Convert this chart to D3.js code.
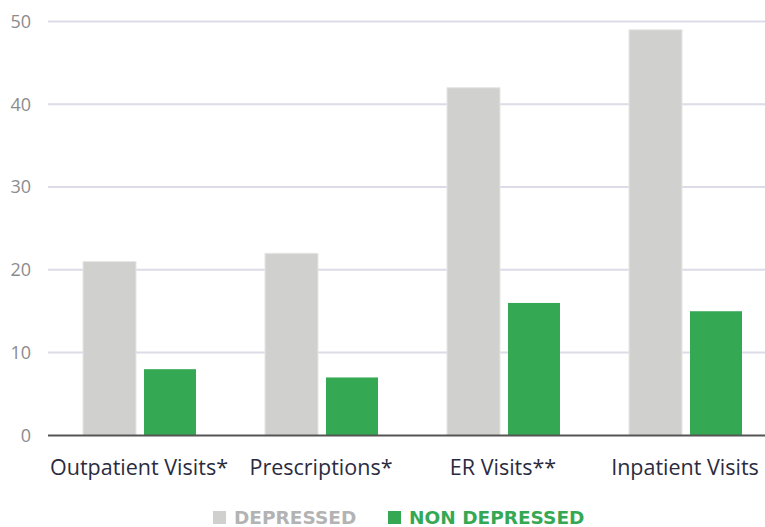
<!DOCTYPE html>
<html lang="en">
<head>
<meta charset="utf-8">
<title>Visits: Depressed vs Non Depressed</title>
<script src="https://d3js.org/d3.v7.min.js"></script>
<style>
  body { margin: 0; background: #fff; font-family: "Open Sans", sans-serif; }
  .tick-label { font-size: 18px; fill: #8c8c8c; }
  .cat-label { font-size: 21.5px; fill: #2b2b40; }
  .legend { font-family: "DejaVu Sans", sans-serif; font-size: 18.5px; font-weight: bold; }
</style>
</head>
<body>
<div id="vis"></div>
<script>
const categories = ["Outpatient Visits*", "Prescriptions*", "ER Visits**", "Inpatient Visits"];
const depressed = [21, 22, 42, 49];
const nonDepressed = [8, 7, 16, 15];
const yTicks = [0, 10, 20, 30, 40, 50];

const width = 765, height = 527;
const svg = d3.select("#vis").append("svg")
  .attr("width", width).attr("height", height);

const x = d3.scaleBand().domain(categories).range([48, 776]);
const y = d3.scaleLinear().domain([0, 50]).range([435.4, 21.5]);

// gridlines
svg.append("g").selectAll("line")
  .data(yTicks.filter(d => d > 0))
  .enter().append("line")
  .attr("x1", 48).attr("x2", width)
  .attr("y1", d => y(d)).attr("y2", d => y(d))
  .attr("stroke", "#dcdbe8").attr("stroke-width", 2);

// y tick labels
svg.append("g").selectAll("text")
  .data(yTicks)
  .enter().append("text")
  .attr("class", "tick-label")
  .attr("x", 31).attr("y", d => y(d))
  .attr("dy", "0.35em")
  .attr("text-anchor", "end")
  .text(d => d);

const barW = 53, gap = 8;
const groups = svg.append("g").selectAll("g")
  .data(categories)
  .enter().append("g")
  .attr("transform", d => "translate(" + (x(d) + x.bandwidth() / 2) + ",0)");

groups.append("rect")
  .attr("x", -barW - gap / 2 + 1)
  .attr("y", (d, i) => y(depressed[i]))
  .attr("width", barW)
  .attr("height", (d, i) => y(0) - y(depressed[i]))
  .attr("fill", "#d0d0ce")
  .attr("stroke", "#e6e6e4").attr("stroke-width", 1);

groups.append("rect")
  .attr("x", gap / 2 + 1)
  .attr("y", (d, i) => y(nonDepressed[i]))
  .attr("width", barW - 1)
  .attr("height", (d, i) => y(0) - y(nonDepressed[i]))
  .attr("fill", "#34a853");

// baseline
svg.append("line")
  .attr("x1", 48).attr("x2", width)
  .attr("y1", y(0)).attr("y2", y(0))
  .attr("stroke", "#555").attr("stroke-width", 2);

// category labels
groups.append("text")
  .attr("class", "cat-label")
  .attr("y", 475)
  .attr("text-anchor", "middle")
  .text(d => d);

// legend
const legend = [
  { name: "DEPRESSED", color: "#d0d0ce", text: "#b3b3b3", x: 213 },
  { name: "NON DEPRESSED", color: "#34a853", text: "#34a853", x: 388 }
];
const lg = svg.append("g").selectAll("g")
  .data(legend).enter().append("g");
lg.append("rect")
  .attr("x", d => d.x).attr("y", 511)
  .attr("width", 13).attr("height", 13)
  .attr("fill", d => d.color);
lg.append("text")
  .attr("class", "legend")
  .attr("x", d => d.x + 21).attr("y", 524)
  .attr("fill", d => d.text)
  .text(d => d.name);
</script>
</body>
</html>
